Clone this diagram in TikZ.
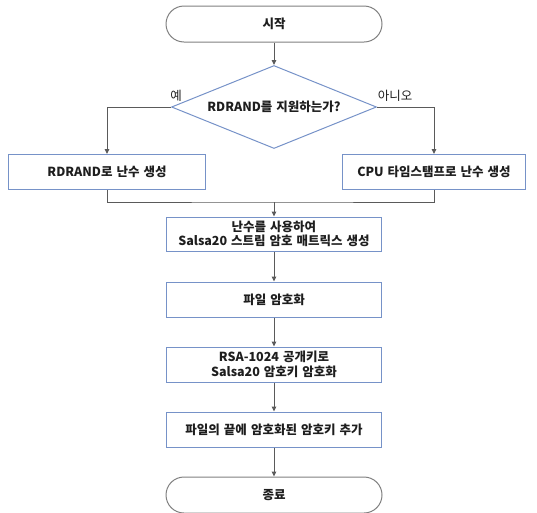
\documentclass[tikz,border=0pt]{standalone}
\usepackage{fontspec}
\setmainfont{Noto Sans CJK KR}[WordSpace=1.4]
\usepackage{tikz}
\usetikzlibrary{shapes.geometric, arrows.meta}

\definecolor{boxblue}{RGB}{118,146,200}
\definecolor{termgray}{RGB}{128,128,128}
\definecolor{linegray}{RGB}{90,90,90}
\definecolor{txt}{RGB}{30,30,30}

\tikzset{
  term/.style={draw=termgray, line width=1pt, rectangle, rounded corners=18pt,
    minimum width=216pt, minimum height=36pt, inner sep=0pt,
    font=\fontsize{12.5}{14.5}\selectfont\bfseries, text=txt},
  procbox/.style={draw=boxblue, line width=1pt, rectangle, inner sep=0pt,
    minimum height=35pt, align=center,
    font=\fontsize{12.5}{14.5}\selectfont\bfseries, text=txt},
  decision/.style={draw=boxblue, line width=1pt, diamond, aspect=2.47, inner sep=0pt,
    minimum width=205pt, minimum height=83pt,
    font=\fontsize{12.5}{14.5}\selectfont\bfseries, text=txt},
  flow/.style={draw=linegray, line width=1pt, -{Triangle[length=5pt,width=4.5pt]}},
  branch/.style={font=\fontsize{12.5}{14.5}\selectfont, text=txt}
}

\begin{document}
\begin{tikzpicture}[x=1pt, y=-1pt]
\useasboundingbox (0,0) rectangle (537,512);
% terminals and steps
\node[term] (start) at (274,24) {시작};
\node[decision] (ask) at (274,107) {RDRAND를 지원하는가?};
\node[procbox, minimum width=197pt] (hwrand) at (107,172) {RDRAND로 난수 생성};
\node[procbox, minimum width=183pt] (tsrand) at (434,172) {CPU 타임스탬프로 난수 생성};
\node[procbox, minimum width=215pt, minimum height=34pt] (matrix) at (274,234) {난수를 사용하여\\Salsa20 스트림 암호 매트릭스 생성};
\node[procbox, minimum width=215pt] (encfile) at (274,299.5) {파일 암호화};
\node[procbox, minimum width=215pt] (enckey) at (274,364.5) {RSA-1024 공개키로\\Salsa20 암호키 암호화};
\node[procbox, minimum width=215pt] (append) at (274,429.5) {파일의 끝에 암호화된 암호키 추가};
\node[term] (stop) at (274,495) {종료};
% branch labels
\node[branch] (yes) at (176,96) {예};
\node[branch] (no) at (395,96) {아니오};
\coordinate (join) at (274,202);
% connectors
\draw[flow] (start) -- (ask);
\draw[flow] (ask.west) -| (hwrand.north);
\draw[flow] (ask.east) -| (tsrand.north);
\draw[draw=linegray, line width=1pt] (hwrand.south) |- (join) -| (tsrand.south);
\draw[flow] (join) -- (matrix);
\draw[flow] (matrix) -- (encfile);
\draw[flow] (encfile) -- (enckey);
\draw[flow] (enckey) -- (append);
\draw[flow] (append) -- (stop);
\end{tikzpicture}
\end{document}
